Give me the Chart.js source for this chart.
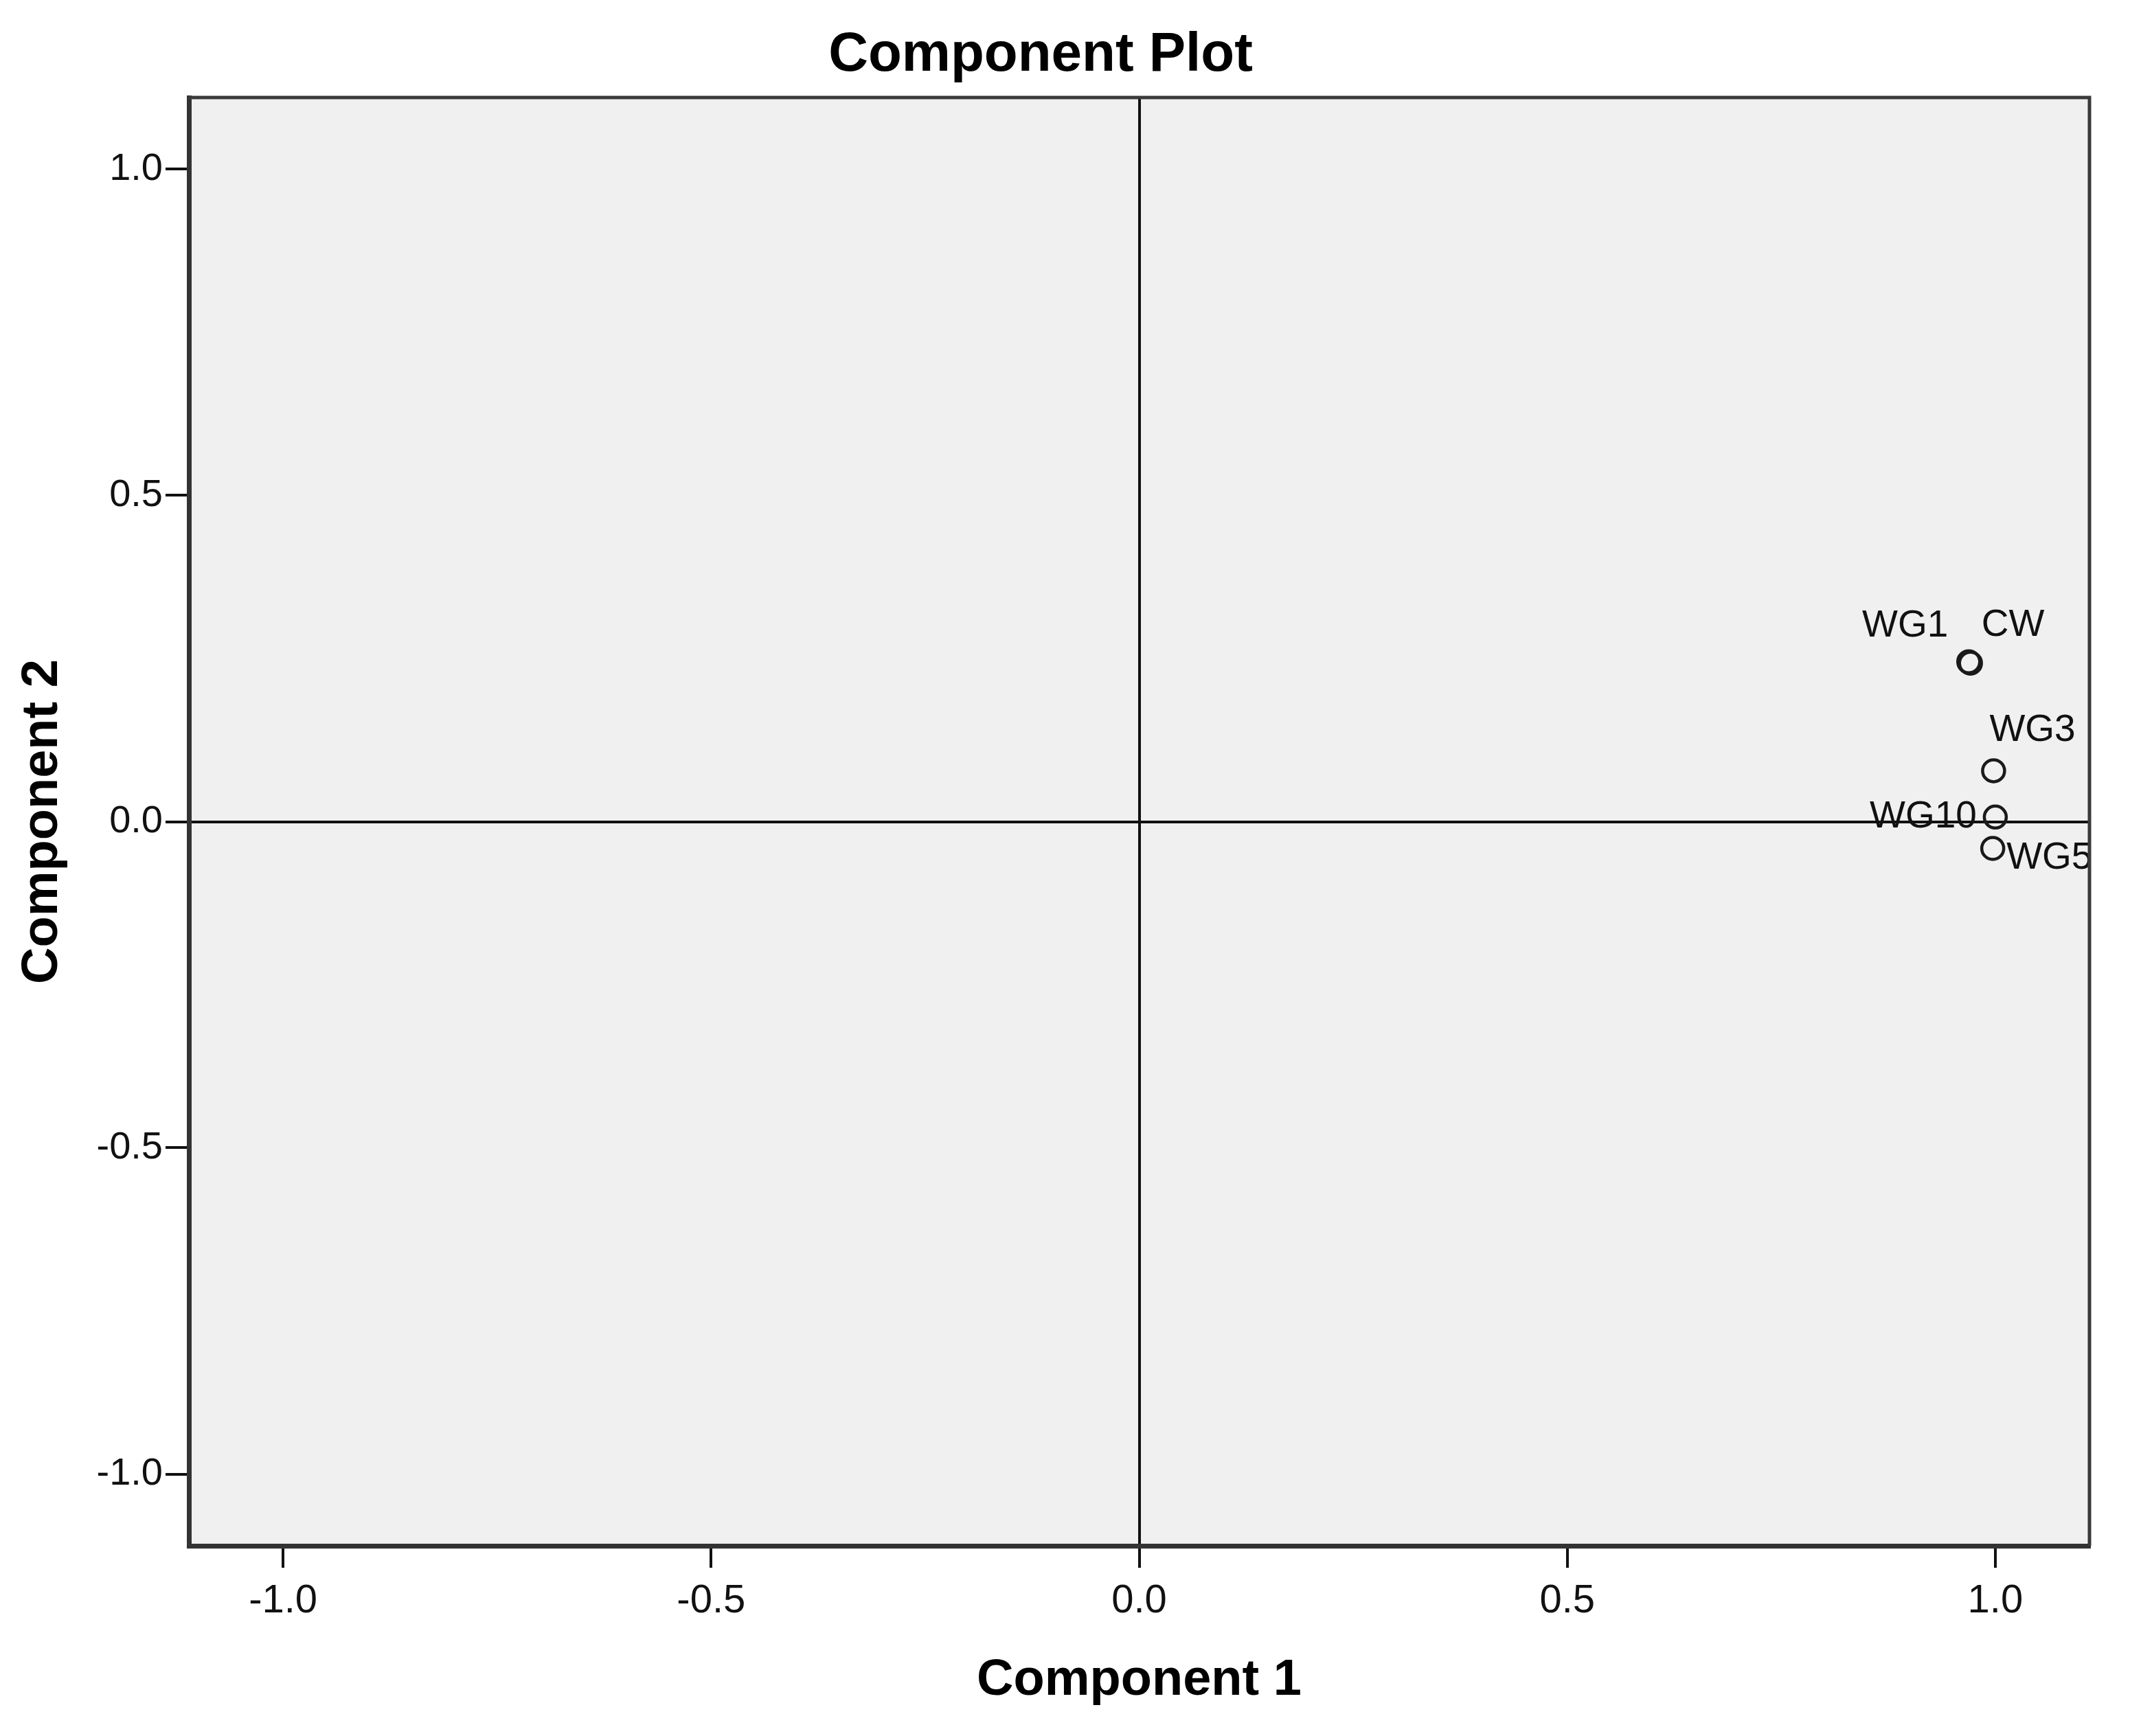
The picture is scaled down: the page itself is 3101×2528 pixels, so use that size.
<!DOCTYPE html>
<html><head><meta charset="utf-8">
<script src="https://cdn.jsdelivr.net/npm/chart.js@4.4.1/dist/chart.umd.min.js"></script>
<style>html,body{margin:0;padding:0;background:#fff;} canvas{display:block}</style>
</head><body>
<canvas id="c" width="3101" height="2528"></canvas>
<script>
// ---- data ----
const variables  = ['WG1', 'CW', 'WG3', 'WG10', 'WG5'];
const component1 = [0.969, 0.971, 0.998, 1.000, 0.997];
const component2 = [0.245, 0.243, 0.078, 0.007, -0.041];
const xTickValues = [-1.0, -0.5, 0.0, 0.5, 1.0];
const xTickLabels = ['-1.0', '-0.5', '0.0', '0.5', '1.0'];
const yTickValues = [-1.0, -0.5, 0.0, 0.5, 1.0];
const yTickLabels = ['-1.0', '-0.5', '0.0', '0.5', '1.0'];
const axisMin = -1.11, axisMax = 1.11;
const chartTitle = 'Component Plot';
const xTitle = 'Component 1';
const yTitle = 'Component 2';

// ---- styling ----
const FONT = "'Liberation Sans', Arial, sans-serif";
const labelPlacement = {
  WG1:  {align: 'right', dx: -30, dy: -37},
  CW:   {align: 'left',  dx: 16,  dy: -40},
  WG3:  {align: 'left',  dx: -6,  dy: -43},
  WG10: {align: 'right', dx: -27, dy: 15},
  WG5:  {align: 'left',  dx: 20,  dy: 30}
};

const points = variables.map((v, i) => ({x: component1[i], y: component2[i], label: v}));

const bgPlugin = {
  id: 'bg',
  beforeDraw(chart) {
    const {ctx, chartArea: a} = chart;
    ctx.save();
    ctx.fillStyle = '#ffffff';
    ctx.fillRect(0, 0, chart.width, chart.height);
    ctx.fillStyle = '#f0f0f0';
    ctx.fillRect(a.left, a.top, a.right - a.left, a.bottom - a.top);
    ctx.restore();
  },
  afterDraw(chart) {
    const {ctx, chartArea: a} = chart;
    ctx.save();
    ctx.strokeStyle = '#3a3a3a';
    ctx.lineWidth = 5;
    ctx.beginPath();
    ctx.moveTo(a.left, a.top);
    ctx.lineTo(a.right, a.top);
    ctx.lineTo(a.right, a.bottom);
    ctx.stroke();
    ctx.restore();
  }
};

const labelPlugin = {
  id: 'pointLabels',
  afterDatasetsDraw(chart) {
    const {ctx} = chart;
    const meta = chart.getDatasetMeta(0);
    ctx.save();
    ctx.font = '55px ' + FONT;
    ctx.fillStyle = '#111';
    ctx.textBaseline = 'alphabetic';
    meta.data.forEach((el, i) => {
      const name = variables[i];
      const p = labelPlacement[name];
      ctx.textAlign = p.align;
      ctx.fillText(name, el.x + p.dx, el.y + p.dy);
    });
    ctx.restore();
  }
};

const zeroLine = (ctx) => (ctx.tick && ctx.tick.value === 0) ? '#111' : 'rgba(0,0,0,0)';

new Chart(document.getElementById('c'), {
  type: 'scatter',
  data: {
    datasets: [{
      data: points,
      pointStyle: 'circle',
      pointRadius: 16,
      pointBorderWidth: 4.5,
      pointBorderColor: '#1a1a1a',
      pointBackgroundColor: 'rgba(0,0,0,0)'
    }]
  },
  options: {
    responsive: false,
    animation: false,
    events: [],
    devicePixelRatio: 1,
    layout: {padding: {left: -12, right: 59, top: 0, bottom: 0}},
    plugins: {
      legend: {display: false},
      tooltip: {enabled: false},
      title: {
        display: true,
        text: chartTitle,
        color: '#000',
        font: {family: FONT, size: 80, weight: 'bold', lineHeight: 1.2},
        padding: {top: 33, bottom: 13}
      }
    },
    scales: {
      x: {
        type: 'linear',
        position: 'bottom',
        min: axisMin, max: axisMax,
        afterBuildTicks: (s) => { s.ticks = xTickValues.map(v => ({value: v})); },
        afterFit: (s) => { s.height = 277; },
        ticks: {
          callback: (v, i) => xTickLabels[i],
          color: '#111',
          font: {family: FONT, size: 58},
          padding: 14,
          maxRotation: 0,
          autoSkip: false
        },
        grid: {
          color: zeroLine,
          lineWidth: 4,
          drawTicks: true,
          tickLength: 32,
          tickColor: '#111',
          tickWidth: 4
        },
        border: {display: true, color: '#333', width: 7},
        title: {
          display: true,
          text: xTitle,
          color: '#000',
          font: {family: FONT, size: 74, weight: 'bold', lineHeight: 1.2},
          padding: {top: 0, bottom: 36}
        }
      },
      y: {
        type: 'linear',
        position: 'left',
        min: axisMin, max: axisMax,
        afterBuildTicks: (s) => { s.ticks = yTickValues.map(v => ({value: v})); },
        afterFit: (s) => { s.width = 287; },
        ticks: {
          callback: (v, i) => yTickLabels[i],
          color: '#111',
          font: {family: FONT, size: 56},
          padding: 4,
          autoSkip: false
        },
        grid: {
          color: zeroLine,
          lineWidth: 4,
          drawTicks: true,
          tickLength: 34,
          tickColor: '#111',
          tickWidth: 4
        },
        border: {display: true, color: '#333', width: 7},
        title: {
          display: true,
          text: yTitle,
          color: '#000',
          font: {family: FONT, size: 74, weight: 'bold', lineHeight: 1.2},
          padding: {top: 30, bottom: 0}
        }
      }
    }
  },
  plugins: [bgPlugin, labelPlugin]
});
</script>
</body></html>
